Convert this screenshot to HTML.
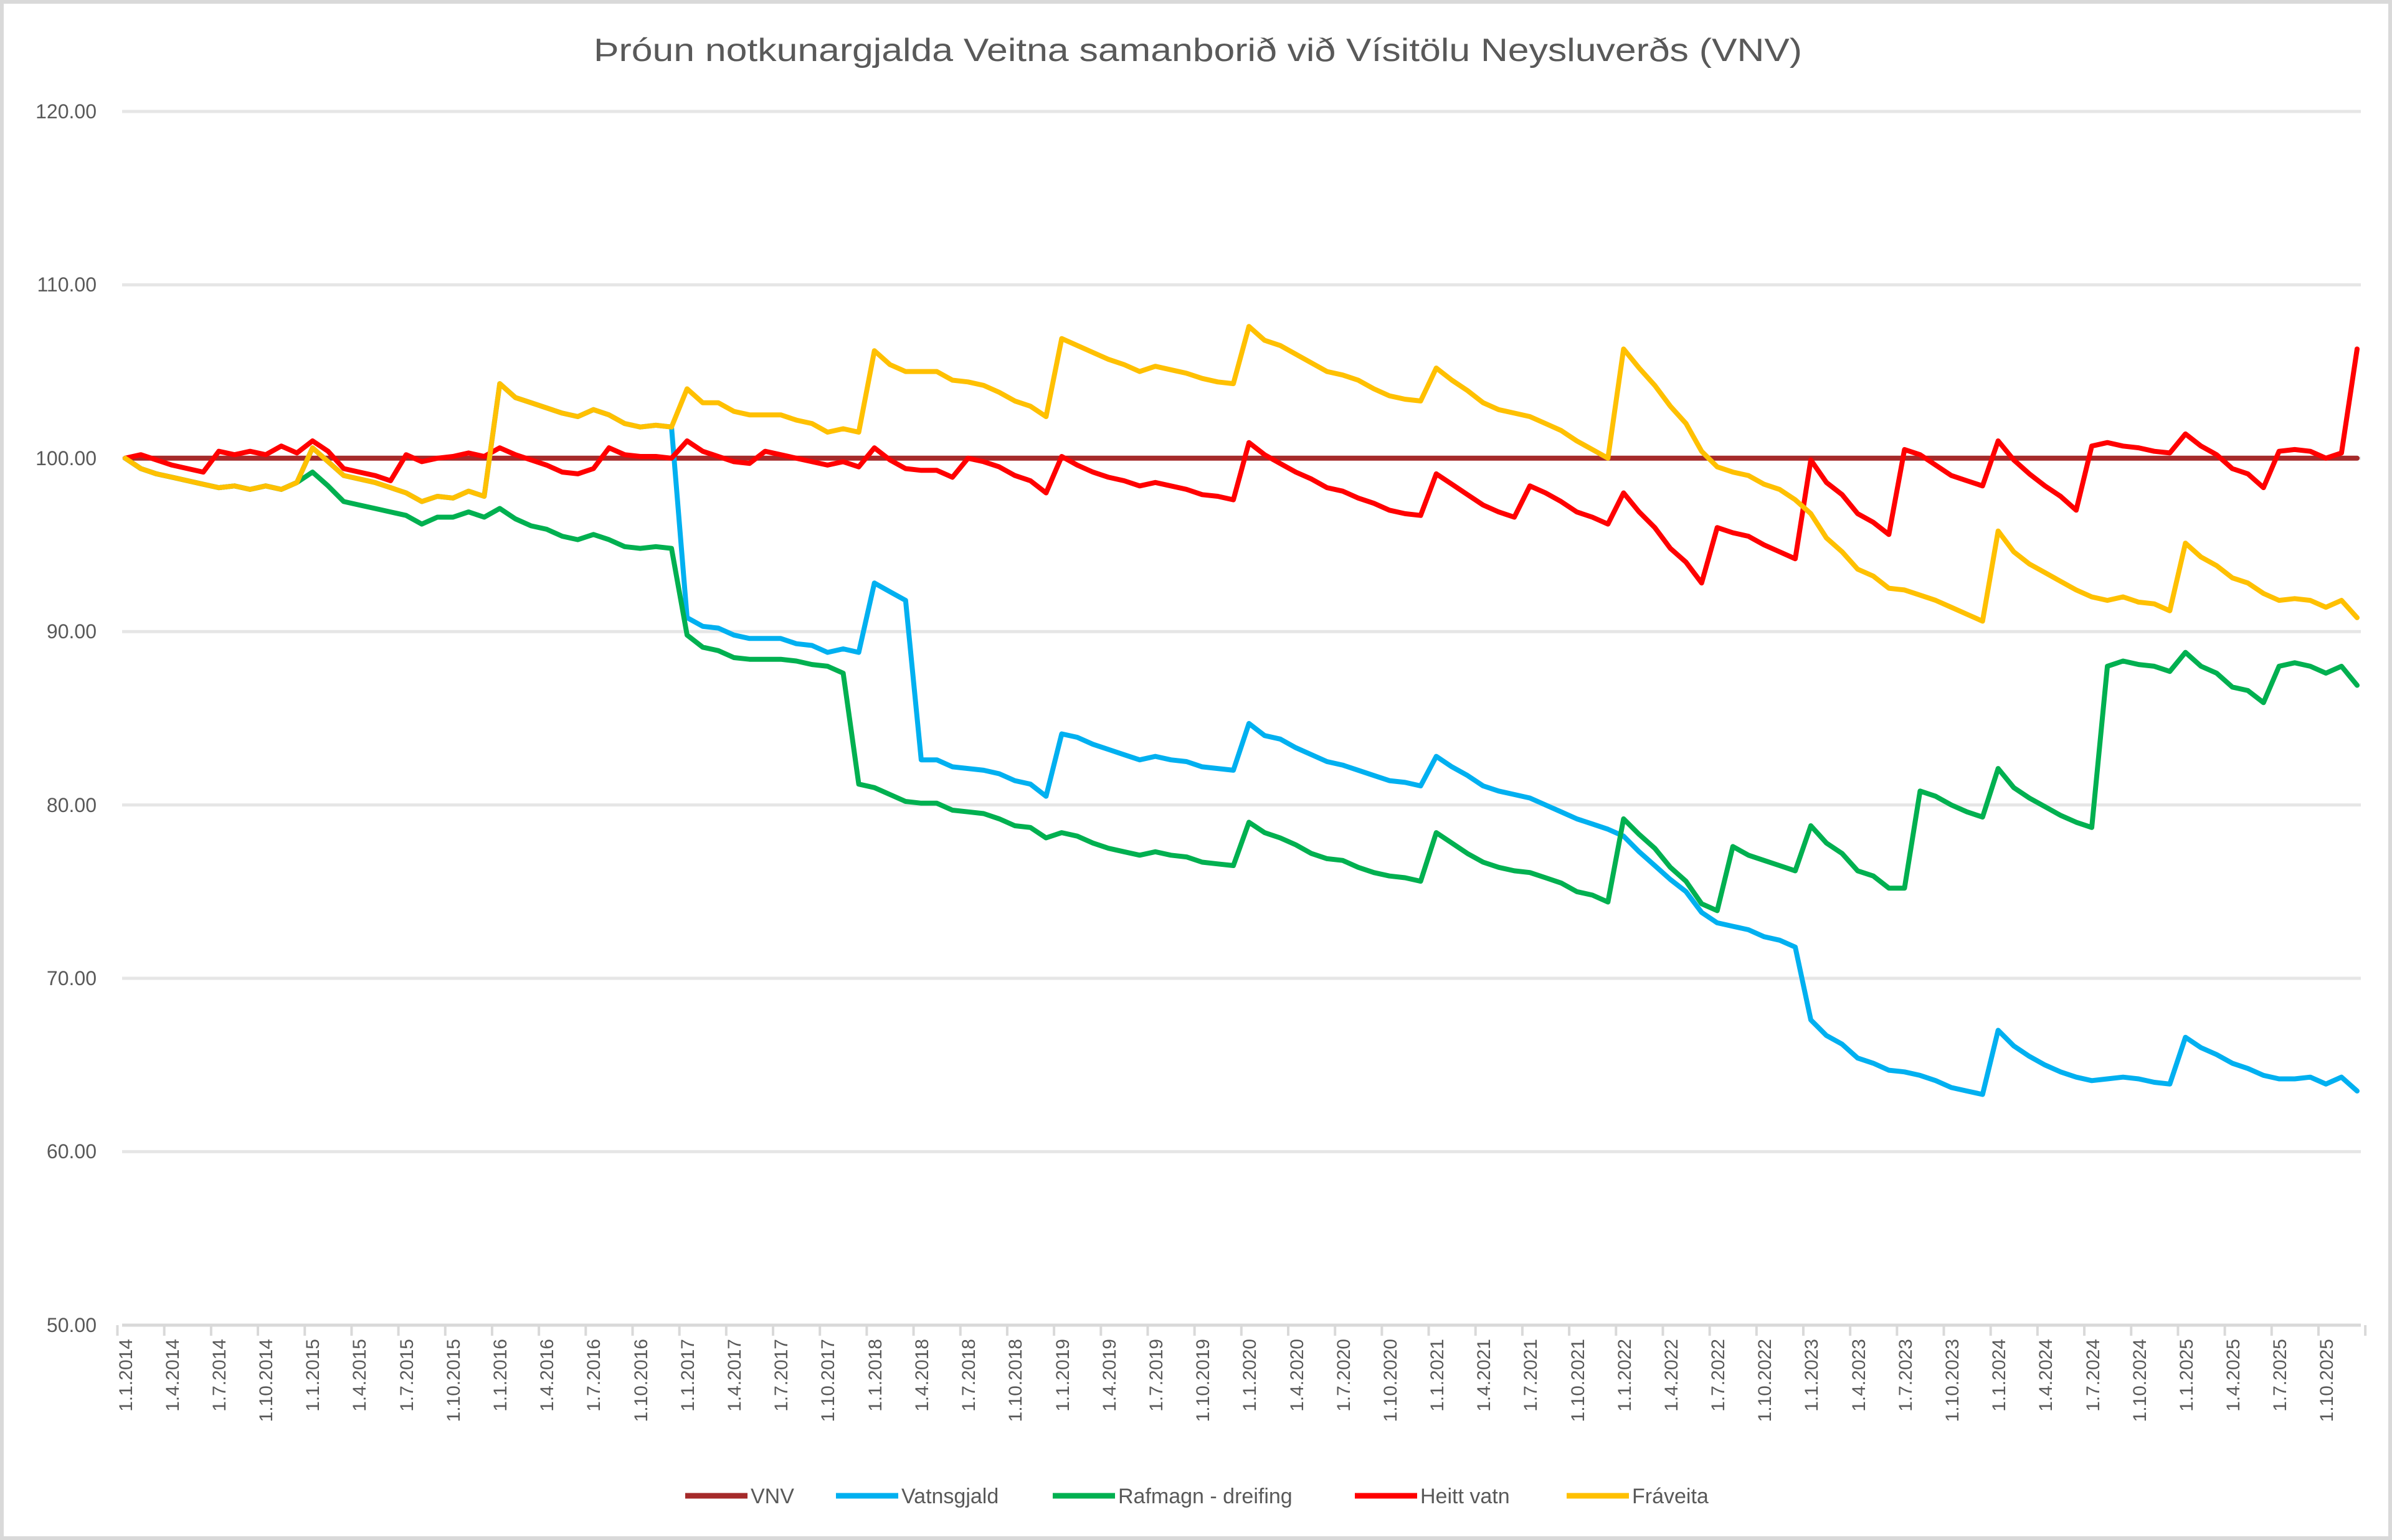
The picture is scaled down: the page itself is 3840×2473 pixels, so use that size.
<!DOCTYPE html>
<html><head><meta charset="utf-8"><style>
html,body{margin:0;padding:0;background:#fff}
svg{display:block}
text{font-family:"Liberation Sans",sans-serif}
</style></head><body>
<svg id="c" width="3840" height="2473" viewBox="0 0 3840 2473" xmlns="http://www.w3.org/2000/svg">
<rect x="0" y="0" width="3840" height="2473" fill="#fff"/>
<rect x="3" y="3" width="3834" height="2467" fill="none" stroke="#d9d9d9" stroke-width="6"/>
<text x="1923" y="98" font-size="52" fill="#595959" text-anchor="middle" textLength="1940" lengthAdjust="spacingAndGlyphs">Þróun notkunargjalda Veitna samanborið við Vísitölu Neysluverðs (VNV)</text>
<g stroke="#e6e6e6" stroke-width="5">
<line x1="196" y1="179" x2="3790" y2="179"/>
<line x1="196" y1="457.4" x2="3790" y2="457.4"/>
<line x1="196" y1="735.8" x2="3790" y2="735.8"/>
<line x1="196" y1="1014.2" x2="3790" y2="1014.2"/>
<line x1="196" y1="1292.6" x2="3790" y2="1292.6"/>
<line x1="196" y1="1571" x2="3790" y2="1571"/>
<line x1="196" y1="1849.4" x2="3790" y2="1849.4"/>
<line x1="196" y1="2128" x2="3790" y2="2128" stroke="#d9d9d9"/>
</g>
<g font-size="32" fill="#595959" text-anchor="end">
<text x="155" y="190">120.00</text>
<text x="155" y="468">110.00</text>
<text x="155" y="747">100.00</text>
<text x="155" y="1025">90.00</text>
<text x="155" y="1304">80.00</text>
<text x="155" y="1582">70.00</text>
<text x="155" y="1860">60.00</text>
<text x="155" y="2139">50.00</text>
</g>
<g id="ticks" stroke="#d9d9d9" stroke-width="4"></g>
<g id="series" fill="none" stroke-width="8" stroke-linejoin="round" stroke-linecap="round"></g>
<g font-size="30" fill="#595959" text-anchor="end" id="xl">
<text transform="translate(212,2150) rotate(-90)">1.1.2014</text>
<text transform="translate(287,2150) rotate(-90)">1.4.2014</text>
<text transform="translate(362,2150) rotate(-90)">1.7.2014</text>
<text transform="translate(437,2150) rotate(-90)">1.10.2014</text>
<text transform="translate(512,2150) rotate(-90)">1.1.2015</text>
<text transform="translate(587,2150) rotate(-90)">1.4.2015</text>
<text transform="translate(663,2150) rotate(-90)">1.7.2015</text>
<text transform="translate(738,2150) rotate(-90)">1.10.2015</text>
<text transform="translate(813,2150) rotate(-90)">1.1.2016</text>
<text transform="translate(888,2150) rotate(-90)">1.4.2016</text>
<text transform="translate(963,2150) rotate(-90)">1.7.2016</text>
<text transform="translate(1039,2150) rotate(-90)">1.10.2016</text>
<text transform="translate(1114,2150) rotate(-90)">1.1.2017</text>
<text transform="translate(1189,2150) rotate(-90)">1.4.2017</text>
<text transform="translate(1264,2150) rotate(-90)">1.7.2017</text>
<text transform="translate(1339,2150) rotate(-90)">1.10.2017</text>
<text transform="translate(1415,2150) rotate(-90)">1.1.2018</text>
<text transform="translate(1490,2150) rotate(-90)">1.4.2018</text>
<text transform="translate(1565,2150) rotate(-90)">1.7.2018</text>
<text transform="translate(1640,2150) rotate(-90)">1.10.2018</text>
<text transform="translate(1716,2150) rotate(-90)">1.1.2019</text>
<text transform="translate(1791,2150) rotate(-90)">1.4.2019</text>
<text transform="translate(1866,2150) rotate(-90)">1.7.2019</text>
<text transform="translate(1941,2150) rotate(-90)">1.10.2019</text>
<text transform="translate(2016,2150) rotate(-90)">1.1.2020</text>
<text transform="translate(2092,2150) rotate(-90)">1.4.2020</text>
<text transform="translate(2167,2150) rotate(-90)">1.7.2020</text>
<text transform="translate(2242,2150) rotate(-90)">1.10.2020</text>
<text transform="translate(2317,2150) rotate(-90)">1.1.2021</text>
<text transform="translate(2392,2150) rotate(-90)">1.4.2021</text>
<text transform="translate(2467,2150) rotate(-90)">1.7.2021</text>
<text transform="translate(2543,2150) rotate(-90)">1.10.2021</text>
<text transform="translate(2618,2150) rotate(-90)">1.1.2022</text>
<text transform="translate(2693,2150) rotate(-90)">1.4.2022</text>
<text transform="translate(2768,2150) rotate(-90)">1.7.2022</text>
<text transform="translate(2843,2150) rotate(-90)">1.10.2022</text>
<text transform="translate(2918,2150) rotate(-90)">1.1.2023</text>
<text transform="translate(2994,2150) rotate(-90)">1.4.2023</text>
<text transform="translate(3069,2150) rotate(-90)">1.7.2023</text>
<text transform="translate(3144,2150) rotate(-90)">1.10.2023</text>
<text transform="translate(3219,2150) rotate(-90)">1.1.2024</text>
<text transform="translate(3294,2150) rotate(-90)">1.4.2024</text>
<text transform="translate(3370,2150) rotate(-90)">1.7.2024</text>
<text transform="translate(3445,2150) rotate(-90)">1.10.2024</text>
<text transform="translate(3520,2150) rotate(-90)">1.1.2025</text>
<text transform="translate(3595,2150) rotate(-90)">1.4.2025</text>
<text transform="translate(3670,2150) rotate(-90)">1.7.2025</text>
<text transform="translate(3745,2150) rotate(-90)">1.10.2025</text>
</g>
<g font-size="34" fill="#595959">
<line x1="1100" y1="2402" x2="1200" y2="2402" stroke="#a52a2a" stroke-width="9"/>
<text x="1205" y="2414">VNV</text>
<line x1="1342" y1="2402" x2="1442" y2="2402" stroke="#00b0f0" stroke-width="9"/>
<text x="1447" y="2414">Vatnsgjald</text>
<line x1="1690" y1="2402" x2="1790" y2="2402" stroke="#00b050" stroke-width="9"/>
<text x="1795" y="2414">Rafmagn - dreifing</text>
<line x1="2175" y1="2402" x2="2275" y2="2402" stroke="#ff0000" stroke-width="9"/>
<text x="2280" y="2414">Heitt vatn</text>
<line x1="2515" y1="2402" x2="2615" y2="2402" stroke="#ffc000" stroke-width="9"/>
<text x="2620" y="2414">Fráveita</text>
</g>
</svg>
<script>
var Y=[100,99.4,99.1,98.9,98.7,98.5,98.3,98.4,98.2,98.4,98.2,98.6,
100.6,99.8,99.0,98.8,98.6,98.3,98.0,97.5,97.8,97.7,98.1,97.8,
104.3,103.5,103.2,102.9,102.6,102.4,102.8,102.5,102.0,101.8,101.9,101.8,
104.0,103.2,103.2,102.7,102.5,102.5,102.5,102.2,102.0,101.5,101.7,101.5,
106.2,105.4,105.0,105.0,105.0,104.5,104.4,104.2,103.8,103.3,103.0,102.4,
106.9,106.5,106.1,105.7,105.4,105.0,105.3,105.1,104.9,104.6,104.4,104.3,
107.6,106.8,106.5,106.0,105.5,105.0,104.8,104.5,104.0,103.6,103.4,103.3,
105.2,104.5,103.9,103.2,102.8,102.6,102.4,102.0,101.6,101.0,100.5,100.0,
106.3,105.2,104.2,103.0,102.0,100.4,99.5,99.2,99.0,98.5,98.2,97.6,
96.8,95.4,94.6,93.6,93.2,92.5,92.4,92.1,91.8,91.4,91.0,90.6,
95.8,94.6,93.9,93.4,92.9,92.4,92.0,91.8,92.0,91.7,91.6,91.2,
95.1,94.3,93.8,93.1,92.8,92.2,91.8,91.9,91.8,91.4,91.8,90.8];
var R=[100,100.2,99.9,99.6,99.4,99.2,100.4,100.2,100.4,100.2,100.7,100.3,
101.0,100.4,99.4,99.2,99.0,98.7,100.2,99.8,100.0,100.1,100.3,100.1,
100.6,100.2,99.9,99.6,99.2,99.1,99.4,100.6,100.2,100.1,100.1,100.0,
101.0,100.4,100.1,99.8,99.7,100.4,100.2,100.0,99.8,99.6,99.8,99.5,
100.6,99.9,99.4,99.3,99.3,98.9,100.0,99.8,99.5,99.0,98.7,98.0,
100.1,99.6,99.2,98.9,98.7,98.4,98.6,98.4,98.2,97.9,97.8,97.6,
100.9,100.2,99.7,99.2,98.8,98.3,98.1,97.7,97.4,97.0,96.8,96.7,
99.1,98.5,97.9,97.3,96.9,96.6,98.4,98.0,97.5,96.9,96.6,96.2,
98.0,96.9,96.0,94.8,94.0,92.8,96.0,95.7,95.5,95.0,94.6,94.2,
99.9,98.6,97.9,96.8,96.3,95.6,100.5,100.2,99.6,99.0,98.7,98.4,
101.0,99.9,99.1,98.4,97.8,97.0,100.7,100.9,100.7,100.6,100.4,100.3,
101.4,100.7,100.2,99.4,99.1,98.3,100.4,100.5,100.4,100.0,100.3,106.3];
var B=Y.slice(0,36).concat([
90.8,90.3,90.2,89.8,89.6,89.6,89.6,89.3,89.2,88.8,89.0,88.8,
92.8,92.3,91.8,82.6,82.6,82.2,82.1,82.0,81.8,81.4,81.2,80.5,
84.1,83.9,83.5,83.2,82.9,82.6,82.8,82.6,82.5,82.2,82.1,82.0,
84.7,84.0,83.8,83.3,82.9,82.5,82.3,82.0,81.7,81.4,81.3,81.1,
82.8,82.2,81.7,81.1,80.8,80.6,80.4,80.0,79.6,79.2,78.9,78.6,
78.2,77.3,76.5,75.7,75.0,73.8,73.2,73.0,72.8,72.4,72.2,71.8,
67.6,66.7,66.2,65.4,65.1,64.7,64.6,64.4,64.1,63.7,63.5,63.3,
67.0,66.1,65.5,65.0,64.6,64.3,64.1,64.2,64.3,64.2,64.0,63.9,
66.6,66.0,65.6,65.1,64.8,64.4,64.2,64.2,64.3,63.9,64.3,63.5]);
var G=Y.slice(0,12).concat([
99.2,98.4,97.5,97.3,97.1,96.9,96.7,96.2,96.6,96.6,96.9,96.6,
97.1,96.5,96.1,95.9,95.5,95.3,95.6,95.3,94.9,94.8,94.9,94.8,
89.8,89.1,88.9,88.5,88.4,88.4,88.4,88.3,88.1,88.0,87.6,81.2,
81.0,80.6,80.2,80.1,80.1,79.7,79.6,79.5,79.2,78.8,78.7,78.1,
78.4,78.2,77.8,77.5,77.3,77.1,77.3,77.1,77.0,76.7,76.6,76.5,
79.0,78.4,78.1,77.7,77.2,76.9,76.8,76.4,76.1,75.9,75.8,75.6,
78.4,77.8,77.2,76.7,76.4,76.2,76.1,75.8,75.5,75.0,74.8,74.4,
79.2,78.3,77.5,76.4,75.6,74.3,73.9,77.6,77.1,76.8,76.5,76.2,
78.8,77.8,77.2,76.2,75.9,75.2,75.2,80.8,80.5,80.0,79.6,79.3,
82.1,81.0,80.4,79.9,79.4,79.0,78.7,88.0,88.3,88.1,88.0,87.7,
88.8,88.0,87.6,86.8,86.6,85.9,88.0,88.2,88.0,87.6,88.0,86.9]);
var V=[];for(var i=0;i<144;i++)V.push(100);
var NS="http://www.w3.org/2000/svg";
function px(i,n){return 201+i*(3583/(n-1));}
function py(v){return 179+(120-v)*27.84;}
function add(d,c){var p=[];for(var i=0;i<d.length;i++)p.push(px(i,d.length).toFixed(1)+","+py(d[i]).toFixed(1));
var e=document.createElementNS(NS,"polyline");e.setAttribute("points",p.join(" "));e.setAttribute("stroke",c);document.getElementById("series").appendChild(e);}
add(V,"#a52a2a");add(B,"#00b0f0");add(G,"#00b050");add(R,"#ff0000");add(Y,"#ffc000");
var t=document.getElementById("ticks");
for(var k=0;k<=48;k++){var x=201+k*75.18-12.5;var l=document.createElementNS(NS,"line");
l.setAttribute("x1",x);l.setAttribute("x2",x);l.setAttribute("y1",2128);l.setAttribute("y2",2145);t.appendChild(l);}
</script>
</body></html>
